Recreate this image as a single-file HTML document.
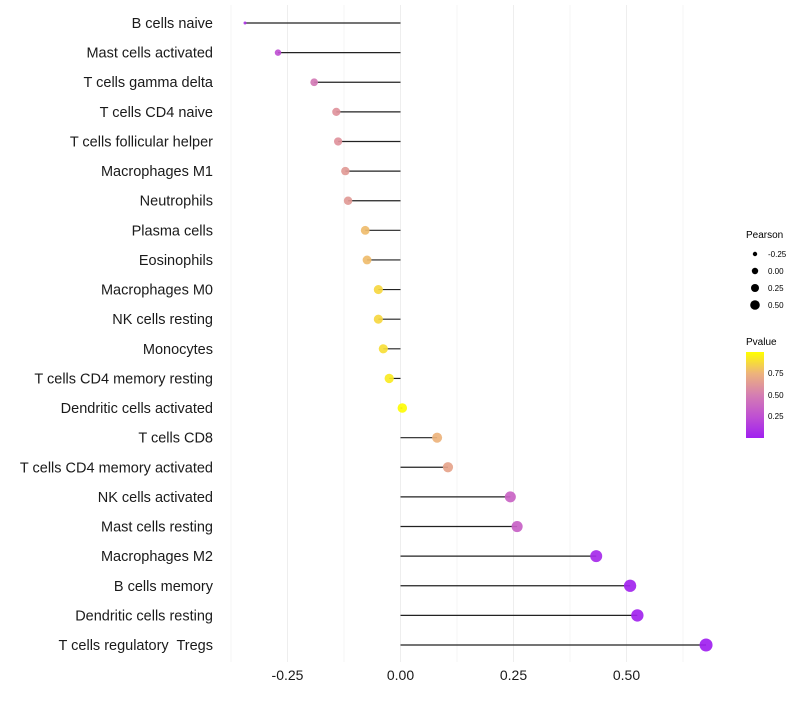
<!DOCTYPE html>
<html><head><meta charset="utf-8"><style>
body{margin:0;background:#fff;font-family:"Liberation Sans",sans-serif}
svg text{font-family:"Liberation Sans",sans-serif;white-space:pre}
</style></head><body>
<svg id="chart" width="800" height="700" xmlns="http://www.w3.org/2000/svg">
<defs><linearGradient id="pg" x1="0" y1="1" x2="0" y2="0">
<stop offset="0" stop-color="#A020F0"/><stop offset="0.25" stop-color="#BF50D2"/><stop offset="0.5" stop-color="#D57EB2"/><stop offset="0.75" stop-color="#EDB37C"/><stop offset="1" stop-color="#FFFF00"/></linearGradient></defs>
<g id="grid"></g><g id="marks"></g><g id="ylabels"></g><g id="xlabels"></g>
<g>
<text x="746" y="238" font-size="10">Pearson</text>
<circle cx="755" cy="254" r="2.2" fill="#000"/><text x="768" y="257" font-size="8">-0.25</text>
<circle cx="755" cy="271" r="3.2" fill="#000"/><text x="768" y="274" font-size="8">0.00</text>
<circle cx="755" cy="288" r="4" fill="#000"/><text x="768" y="291" font-size="8">0.25</text>
<circle cx="755" cy="305" r="4.8" fill="#000"/><text x="768" y="308" font-size="8">0.50</text>
<text x="746" y="345" font-size="10">Pvalue</text>
<rect x="746" y="352" width="18" height="86" fill="url(#pg)"/>
<text x="768" y="376" font-size="8">0.75</text>
<text x="768" y="398" font-size="8">0.50</text>
<text x="768" y="419" font-size="8">0.25</text>
</g>
</svg>
<script>
const cells=["B cells naive","Mast cells activated","T cells gamma delta","T cells CD4 naive","T cells follicular helper","Macrophages M1","Neutrophils","Plasma cells","Eosinophils","Macrophages M0","NK cells resting","Monocytes","T cells CD4 memory resting","Dendritic cells activated","T cells CD8","T cells CD4 memory activated","NK cells activated","Mast cells resting","Macrophages M2","B cells memory","Dendritic cells resting","T cells regulatory  Tregs"];
const pearson=[-0.344,-0.271,-0.191,-0.142,-0.138,-0.122,-0.116,-0.078,-0.074,-0.049,-0.049,-0.038,-0.025,0.004,0.081,0.105,0.243,0.258,0.433,0.508,0.524,0.676];
const pvalue=[0.1,0.25,0.48,0.6,0.6,0.63,0.63,0.78,0.78,0.87,0.87,0.89,0.93,0.99,0.75,0.68,0.36,0.34,0.05,0.02,0.02,0.002];
const xTicks=[-0.25,0,0.25,0.5];
const xTickLabels=["-0.25","0.00","0.25","0.50"];
const xMinor=[-0.375,-0.125,0.125,0.375,0.625];
const NS="http://www.w3.org/2000/svg";
const x=v=>400.5+v*452;
const y=i=>23+i*(622/21);
function mk(t,a,p){const e=document.createElementNS(NS,t);for(const k in a)e.setAttribute(k,a[k]);p.appendChild(e);return e;}
function col(p){const s=[[0,[160,32,240]],[0.25,[191,80,210]],[0.5,[213,126,178]],[0.75,[237,179,124]],[1,[255,255,0]]];
for(let i=0;i<4;i++){if(p<=s[i+1][0]){const t=(p-s[i][0])/(s[i+1][0]-s[i][0]);return "rgb("+s[i][1].map((c,j)=>Math.round(c+t*(s[i+1][1][j]-c))).join(",")+")";}}return "rgb(255,255,0)";}
const g=document.getElementById('grid');
xMinor.forEach(v=>{const l=mk('line',{x1:x(v),x2:x(v),y1:5,y2:662,stroke:'#f5f5f5','stroke-width':1},g);

});
xTicks.forEach(v=>{const l=mk('line',{x1:x(v),x2:x(v),y1:5,y2:662,stroke:'#eeeeee','stroke-width':1},g);

});
const m=document.getElementById('marks'),yl=document.getElementById('ylabels'),xl=document.getElementById('xlabels');
const mn=Math.min(...pearson),mx=Math.max(...pearson);
cells.forEach((c,i)=>{
const ln=mk('line',{x1:x(0),x2:x(pearson[i]),y1:y(i),y2:y(i),stroke:'#222','stroke-width':1.2},m);


const t0=(pearson[i]-mn)/(mx-mn);
const r=1.5+5*Math.pow(t0,0.4);
const ci=mk('circle',{cx:x(pearson[i]),cy:y(i),r:r,fill:col(pvalue[i]),'fill-opacity':0.92},m);


const t=mk('text',{x:213,y:y(i)+5,'text-anchor':'end','font-size':14.5,fill:'#1a1a1a'},yl);t.textContent=c;


});
xTicks.forEach((v,i)=>{const t=mk('text',{x:x(v),y:680,'text-anchor':'middle','font-size':14,fill:'#1a1a1a'},xl);t.textContent=xTickLabels[i];

});
</script>
</body></html>
